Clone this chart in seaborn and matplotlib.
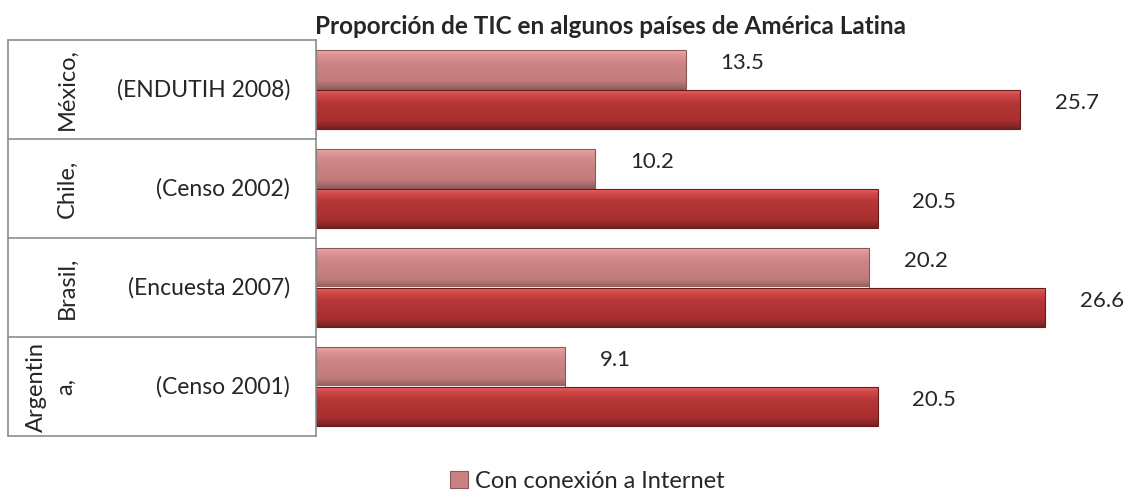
import numpy as np
import pandas as pd
import matplotlib
matplotlib.use("Agg")
import matplotlib.pyplot as plt
import seaborn as sns
from matplotlib.colors import LinearSegmentedColormap
from matplotlib.patches import Patch
from matplotlib.transforms import blended_transform_factory

# data
countries = ["México,", "Chile,", "Brasil,", "Argentin\na,"]
sources = ["(ENDUTIH 2008)", "(Censo 2002)", "(Encuesta 2007)", "(Censo 2001)"]
internet = [13.5, 10.2, 20.2, 9.1]
computadora = [25.7, 20.5, 26.6, 20.5]
series_names = ["Con conexión a Internet", "Con computadora"]

sns.set_style("white")
plt.rcParams["font.family"] = ["Lato", "DejaVu Sans"]

df = pd.DataFrame({
    "pais": countries * 2,
    "valor": internet + computadora,
    "serie": [series_names[0]] * 4 + [series_names[1]] * 4,
})

fig = plt.figure(figsize=(11.32, 4.91), dpi=100)
ax = fig.add_axes([316 / 1132, 1 - 436 / 491, 816 / 1132, 396 / 491])

light = "#C98080"
dark = "#B03434"
sns.barplot(data=df, x="valor", y="pais", hue="serie", hue_order=series_names,
            order=countries, orient="h", palette=[light, dark], width=0.8,
            legend=False, ax=ax)

# gradient fill to mimic the bevelled Excel bars
grads = [
    [(0, "#F4AEAE"), (0.12, "#E09696"), (0.35, "#CD8585"), (0.8, "#C27C7C"), (1, "#946060")],
    [(0, "#F26C6C"), (0.12, "#D24A4A"), (0.35, "#B53636"), (0.8, "#A82F2F"), (1, "#762222")],
]
edges = ["#8A5A5A", "#6A1C1C"]
for cont, g, ec in zip(ax.containers, grads, edges):
    cmap = LinearSegmentedColormap.from_list("g", g)
    col = cmap(np.linspace(0, 1, 64))[:, None, :]
    for bar in cont:
        x0, y0 = bar.get_x(), bar.get_y()
        w, h = bar.get_width(), bar.get_height()
        bar.set_facecolor("none")
        bar.set_edgecolor(ec)
        bar.set_linewidth(0.8)
        im = ax.imshow(col, extent=(x0, x0 + w, y0 + h, y0), origin="upper",
                       aspect="auto", zorder=bar.get_zorder() - 0.1)
        im.set_clip_path(bar)

ax.set_xlim(0, 816 / 27.4)
ax.set_ylim(3.5, -0.5)

# value labels
for i, v in enumerate(internet):
    ax.annotate(f"{v}", (v, i - 0.2), xytext=(25, 4.5), textcoords="offset points",
                ha="left", va="center", fontsize=16)
for i, v in enumerate(computadora):
    ax.annotate(f"{v}", (v, i + 0.2), xytext=(25, 4.5), textcoords="offset points",
                ha="left", va="center", fontsize=16)

ax.set_xlabel("")
ax.set_ylabel("")
ax.set_xticks([])
ax.set_yticks([])
for s in ["top", "right", "bottom"]:
    ax.spines[s].set_visible(False)
ax.spines["left"].set_color("#8C8C8C")
ax.spines["left"].set_linewidth(1.2)

# two-level category table on the left
tr = blended_transform_factory(ax.transAxes, ax.transData)
left_x = (8 - 316) / 816
for b in [-0.5, 0.5, 1.5, 2.5, 3.5]:
    ax.plot([left_x, 0], [b, b], transform=tr, color="#8C8C8C", lw=1.2, clip_on=False)
ax.plot([left_x, left_x], [-0.5, 3.5], transform=tr, color="#8C8C8C", lw=1.2, clip_on=False)
for i, (c, s) in enumerate(zip(countries, sources)):
    cx = 51 if "\n" in c else 67
    ax.text((cx - 316) / 816, i, c, transform=tr, rotation=90, ha="center",
            va="center", fontsize=17, linespacing=1.5)
    ax.text((290 - 316) / 816, i, s, transform=tr, ha="right", va="center",
            fontsize=16.5)

fig.text(315 / 1132, 1 - 27 / 491, "Proporción de TIC en algunos países de América Latina",
         ha="left", va="center", fontsize=17.5, fontweight="bold")

handle = Patch(facecolor=light, edgecolor=edges[0], linewidth=0.8)
fig.legend([handle], [series_names[0]], loc="center left",
           bbox_to_anchor=(438 / 1132, 1 - 481 / 491), frameon=False, fontsize=17,
           handlelength=0.75, handleheight=0.75, handletextpad=0.3, borderpad=0)

fig.savefig("out.png", dpi=100)
